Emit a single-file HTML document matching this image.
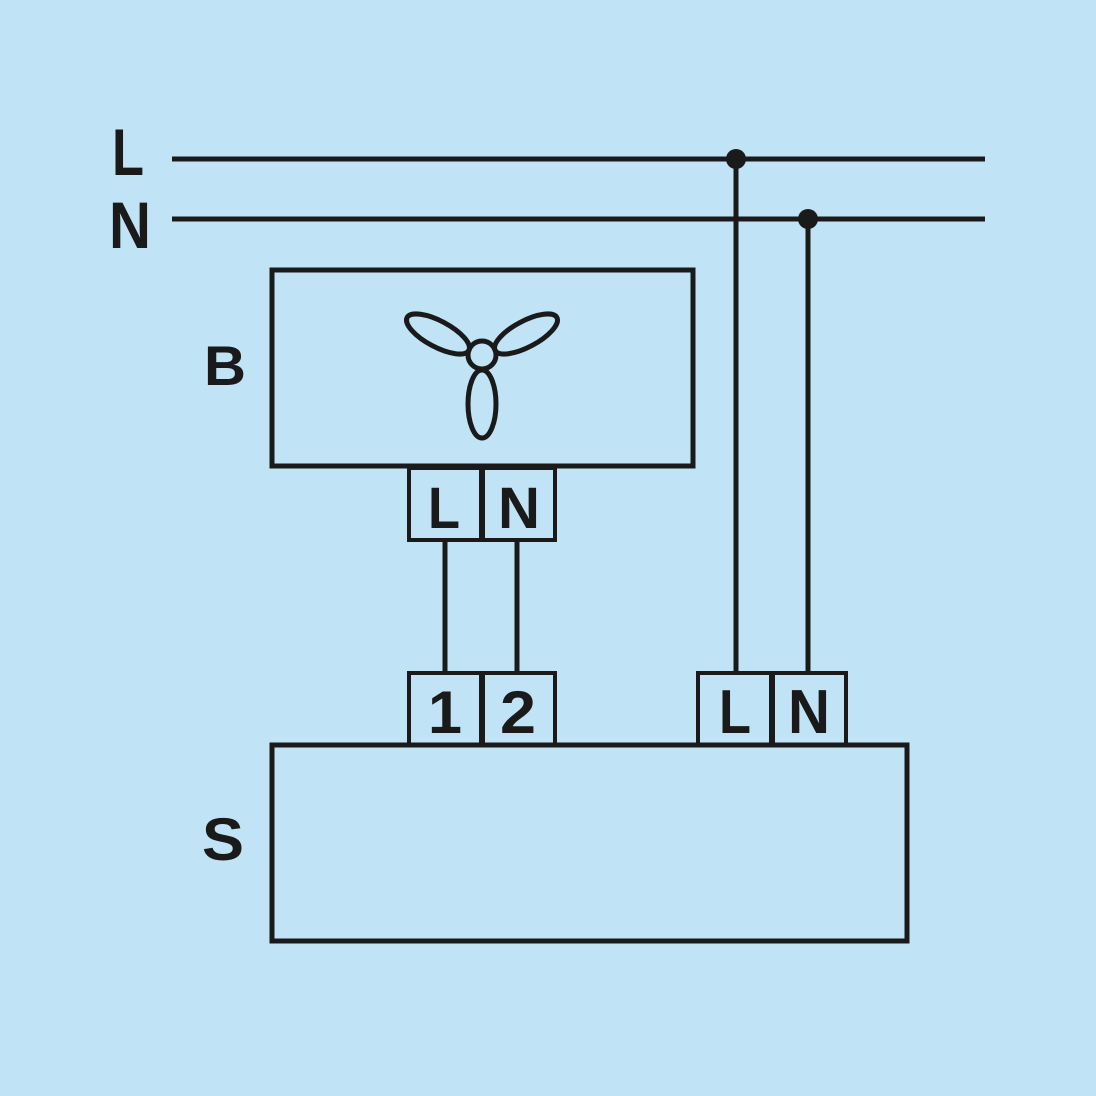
<!DOCTYPE html>
<html><head><meta charset="utf-8"><style>
html,body{margin:0;padding:0;background:#c0e4f6;}
svg{display:block}
text{font-family:"Liberation Sans",sans-serif;font-weight:bold;fill:#1a1a1a}
</style></head><body>
<svg width="1096" height="1096" viewBox="0 0 1096 1096" xmlns="http://www.w3.org/2000/svg">
<rect width="1096" height="1096" fill="#c0e4f6"/>
<g stroke="#1a1a1a" stroke-width="5" fill="none">
<line x1="172" y1="159" x2="985" y2="159"/>
<line x1="172" y1="219" x2="985" y2="219"/>
<line x1="736" y1="159" x2="736" y2="672"/>
<line x1="808" y1="219" x2="808" y2="672"/>
<line x1="445" y1="541" x2="445" y2="672"/>
<line x1="517" y1="541" x2="517" y2="672"/>
<rect x="272" y="270" width="421" height="196"/>
<rect x="272" y="745" width="635" height="196"/>
<rect x="409" y="468" width="72" height="72" stroke-width="4"/>
<rect x="483" y="468" width="72" height="72" stroke-width="4"/>
<rect x="409" y="673" width="72" height="72" stroke-width="4"/>
<rect x="483" y="673" width="72" height="72" stroke-width="4"/>
<rect x="698" y="673" width="73" height="72" stroke-width="4"/>
<rect x="773" y="673" width="73" height="72" stroke-width="4"/>
<g stroke-width="5">
<circle cx="482" cy="355" r="14"/>
<ellipse cx="438" cy="334" rx="35" ry="13" transform="rotate(28 438 334)"/>
<ellipse cx="526" cy="334" rx="35" ry="13" transform="rotate(-28 526 334)"/>
<ellipse cx="482" cy="404" rx="14" ry="34"/>
</g>
</g>
<circle cx="736" cy="159" r="10" fill="#1a1a1a"/>
<circle cx="808" cy="219" r="10" fill="#1a1a1a"/>
<text x="112" y="175" font-size="66" textLength="32" lengthAdjust="spacingAndGlyphs">L</text>
<text x="109" y="248" font-size="66" textLength="42" lengthAdjust="spacingAndGlyphs">N</text>
<text x="204" y="385" font-size="56" textLength="42" lengthAdjust="spacingAndGlyphs">B</text>
<text x="202" y="860" font-size="60" textLength="42" lengthAdjust="spacingAndGlyphs">S</text>
<text x="428" y="528" font-size="58" textLength="32" lengthAdjust="spacingAndGlyphs">L</text>
<text x="498" y="528" font-size="58" textLength="42" lengthAdjust="spacingAndGlyphs">N</text>
<text x="428" y="733" font-size="60" textLength="34" lengthAdjust="spacingAndGlyphs">1</text>
<text x="500" y="733" font-size="60" textLength="36" lengthAdjust="spacingAndGlyphs">2</text>
<text x="719" y="733" font-size="62" textLength="32" lengthAdjust="spacingAndGlyphs">L</text>
<text x="788" y="733" font-size="62" textLength="42" lengthAdjust="spacingAndGlyphs">N</text>
</svg>
</body></html>
